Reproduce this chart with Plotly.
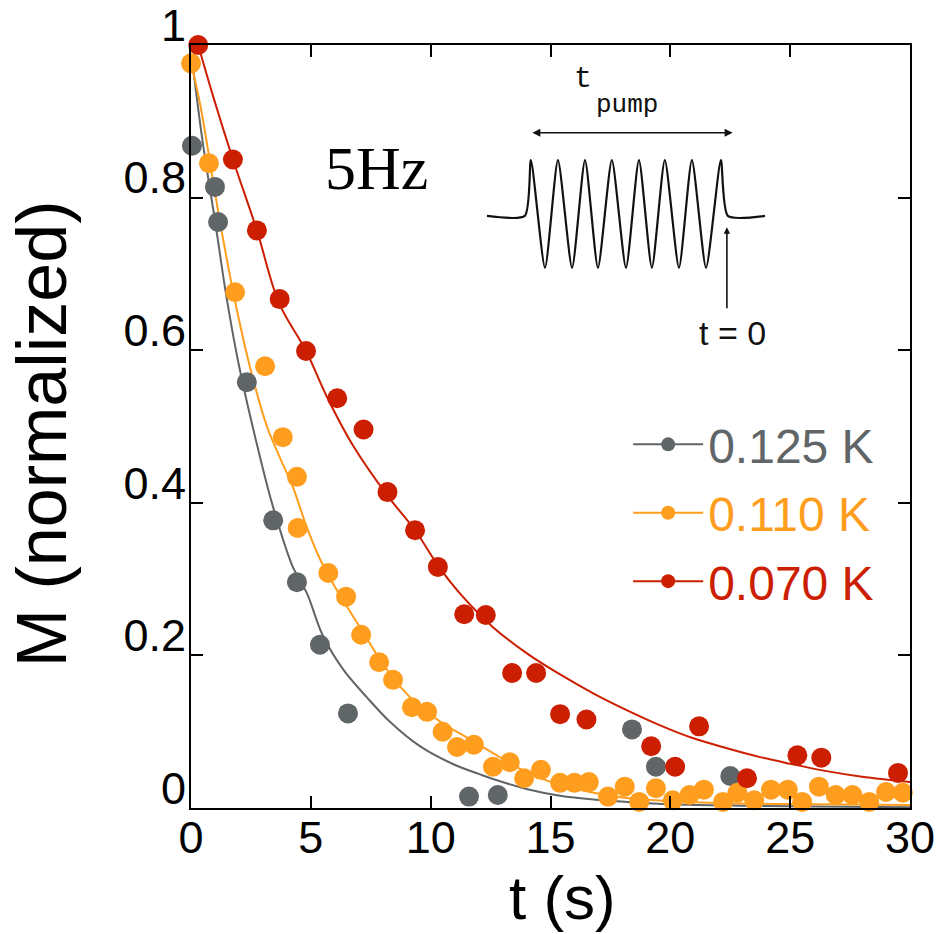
import plotly.graph_objects as go

# ---------------- data ----------------
labels = ["0.125 K", "0.110 K", "0.070 K"]
colors = ["#606568", "#FF9E1E", "#CC1E00"]

gray_t = [0.04, 1.0, 1.13, 2.33, 3.43, 4.42, 5.38, 6.55, 11.6, 12.8, 18.4, 19.4, 22.5]
gray_m = [0.868, 0.814, 0.768, 0.558, 0.377, 0.296, 0.214, 0.124, 0.015, 0.017, 0.103, 0.054, 0.042]

orange_t = [0.0, 0.75, 1.84, 3.09, 3.83, 4.42, 4.45, 5.73, 6.47, 7.1, 7.85, 8.43, 9.22, 9.85,
            10.5, 11.1, 11.8, 12.6, 13.3, 13.9, 14.6, 15.4, 16.0, 16.6, 17.4, 18.1, 18.7,
            19.4, 20.1, 20.8, 21.4, 22.2, 22.8, 23.5, 24.2, 24.9, 25.5, 26.2, 26.9, 27.6,
            28.3, 29.0, 29.7]
orange_m = [0.976, 0.845, 0.676, 0.579, 0.486, 0.434, 0.367, 0.308, 0.277, 0.227, 0.191, 0.168,
            0.132, 0.126, 0.100, 0.080, 0.083, 0.054, 0.060, 0.039, 0.050, 0.033, 0.033, 0.034,
            0.015, 0.028, 0.008, 0.026, 0.010, 0.017, 0.024, 0.008, 0.020, 0.010, 0.024, 0.024,
            0.008, 0.028, 0.017, 0.017, 0.008, 0.021, 0.020]

red_t = [0.3, 1.75, 2.75, 3.7, 4.8, 6.1, 7.2, 8.2, 9.35, 10.3, 11.4, 12.3, 13.4, 14.4, 15.4,
         16.5, 19.2, 20.2, 21.2, 23.2, 25.3, 26.3, 29.5]
red_m = [1.0, 0.85, 0.757, 0.667, 0.599, 0.537, 0.496, 0.414, 0.364, 0.316, 0.254, 0.253, 0.177,
         0.177, 0.123, 0.116, 0.081, 0.054, 0.107, 0.039, 0.069, 0.066, 0.046]

# fitted curves
gray_fit_t = [0.05, 0.5, 1.0, 1.5, 2.04, 2.88, 3.42, 4.26, 4.83, 5.5, 6.34, 7.34, 8.3, 9.55,
              10.9, 12.06, 12.6, 14.0, 15.4, 16.8, 18.2, 20.0, 23.0, 26.0, 30.0]
gray_fit_m = [0.98, 0.87, 0.77, 0.666, 0.574, 0.46, 0.395, 0.315, 0.282, 0.226, 0.182, 0.145,
              0.113, 0.081, 0.058, 0.044, 0.038, 0.025, 0.016, 0.011, 0.008, 0.005, 0.003,
              0.002, 0.001]

orange_fit_t = [0.0, 0.37, 1.2, 1.8, 2.46, 3.17, 3.7, 4.26, 4.83, 5.4, 6.15, 7.05, 7.9, 8.7,
                9.55, 10.7, 11.2, 12.06, 12.6, 14.0, 15.4, 16.8, 18.2, 20.0, 23.0, 26.0, 30.0]
orange_fit_m = [0.976, 0.924, 0.77, 0.67, 0.578, 0.50, 0.46, 0.42, 0.368, 0.325, 0.282, 0.237,
                0.194, 0.160, 0.133, 0.107, 0.098, 0.082, 0.072, 0.047, 0.030, 0.020, 0.013,
                0.009, 0.006, 0.005, 0.004]

red_fit_t = [0.3, 0.93, 1.75, 2.75, 3.67, 4.8, 5.67, 6.76, 8.18, 9.35, 10.3, 11.2, 12.6, 14.0,
             15.4, 16.8, 18.2, 19.6, 20.9, 22.4, 23.7, 25.0, 26.4, 28.0, 30.0]
red_fit_m = [1.0, 0.932, 0.85, 0.757, 0.662, 0.599, 0.539, 0.475, 0.41, 0.364, 0.318, 0.282,
             0.237, 0.203, 0.175, 0.150, 0.128, 0.108, 0.092, 0.078, 0.067, 0.058, 0.049,
             0.041, 0.034]

x_ticks = [0, 5, 10, 15, 20, 25, 30]
y_ticks = [0, 0.2, 0.4, 0.6, 0.8, 1.0]
y_tick_text = ["0", "0.2", "0.4", "0.6", "0.8", "1"]

# schematic inset (pump pulse) vertices in data units
pulse_t = [12.35, 13.93, 14.18, 14.77, 15.31, 15.90, 16.44, 16.98, 17.56, 18.15, 18.69,
           19.23, 19.77, 20.36, 20.90, 21.49, 22.11, 22.40, 23.95]
pulse_m = [0.776, 0.776, 0.849, 0.708, 0.849, 0.708, 0.849, 0.708, 0.849, 0.708, 0.849,
           0.708, 0.849, 0.708, 0.849, 0.708, 0.849, 0.776, 0.776]

series = [(gray_t, gray_m, gray_fit_t, gray_fit_m),
          (orange_t, orange_m, orange_fit_t, orange_fit_m),
          (red_t, red_m, red_fit_t, red_fit_m)]

fig = go.Figure()

# fit lines
for (t, m, ft, fm), c in zip(series, colors):
    fig.add_trace(go.Scatter(x=ft, y=fm, mode="lines",
                             line=dict(color=c, width=2, shape="spline", smoothing=1.0),
                             showlegend=False, hoverinfo="skip", cliponaxis=False))

# data points
for (t, m, ft, fm), c in zip(series, colors):
    fig.add_trace(go.Scatter(x=t, y=m, mode="markers",
                             marker=dict(color=c, size=20, symbol="circle", line=dict(width=0)),
                             showlegend=False, cliponaxis=False))

# legend entries
for lab, c, i in zip(labels, colors, range(3)):
    fig.add_trace(go.Scatter(x=[None], y=[None], mode="lines+markers",
                             line=dict(color=c, width=2),
                             marker=dict(color=c, size=14),
                             name=f"<span style='color:{c}'>{lab}</span>",
                             legendgroup=f"g{i}"))

# inset pulse drawing
fig.add_trace(go.Scatter(x=pulse_t, y=pulse_m, mode="lines",
                         line=dict(color="#111111", width=2.2, shape="spline", smoothing=0.6),
                         showlegend=False, hoverinfo="skip"))

annotations = [
    dict(x=7.76, y=0.839, xref="x", yref="y", text="5Hz", showarrow=False,
         xanchor="center", yanchor="middle",
         font=dict(family="Liberation Serif", size=62, color="black")),
    # t_pump double arrow
    dict(x=22.6, y=0.885, xref="x", yref="y", ax=14.18, ay=0.885, axref="x", ayref="y",
         text="", showarrow=True, arrowhead=2, arrowsize=1, arrowwidth=1.6,
         arrowside="end+start", arrowcolor="#111111"),
    dict(x=16.35, y=0.955, xref="x", yref="y", text="t", showarrow=False,
         xanchor="center", yanchor="middle",
         font=dict(family="Liberation Mono", size=30, color="#111111")),
    dict(x=18.2, y=0.922, xref="x", yref="y", text="pump", showarrow=False,
         xanchor="center", yanchor="middle",
         font=dict(family="Liberation Mono", size=26, color="#111111")),
    # t = 0 marker
    dict(x=22.36, y=0.761, xref="x", yref="y", ax=22.36, ay=0.653, axref="x", ayref="y",
         text="", showarrow=True, arrowhead=2, arrowsize=0.8, arrowwidth=1.6,
         arrowcolor="#111111"),
    dict(x=22.6, y=0.623, xref="x", yref="y", text="t = 0", showarrow=False,
         xanchor="center", yanchor="middle",
         font=dict(family="Liberation Sans", size=34, color="#111111")),
    # axis titles
    dict(x=-0.207, y=0.49, xref="paper", yref="paper", text="M (normalized)", textangle=-90,
         xanchor="center", yanchor="middle", showarrow=False,
         font=dict(family="Liberation Sans", size=70, color="black")),
    dict(x=0.517, y=-0.117, xref="paper", yref="paper", text="t (s)", showarrow=False,
         xanchor="center", yanchor="middle",
         font=dict(family="Liberation Sans", size=62, color="black")),
]

axis_common = dict(showline=True, linewidth=2, linecolor="black", mirror="allticks",
                   ticks="inside", ticklen=12, tickwidth=2, tickcolor="black",
                   showgrid=False, zeroline=False, ticklabeloverflow="allow",
                   automargin=False,
                   tickfont=dict(family="Liberation Sans", size=45, color="black"))

fig.update_layout(
    width=940, height=934,
    margin=dict(l=191, r=30, t=45, b=126, autoexpand=False),
    paper_bgcolor="white", plot_bgcolor="white",
    xaxis=dict(range=[0, 30], tickvals=x_ticks, ticklabelstandoff=-11, **axis_common),
    yaxis=dict(range=[0, 1], tickvals=y_ticks, ticktext=y_tick_text, ticklabelshift=-20,
               ticklabelstandoff=-6, **axis_common),
    legend=dict(x=0.608, y=0.526, xanchor="left", yanchor="top", bgcolor="rgba(0,0,0,0)",
                font=dict(family="Liberation Sans", size=48), itemwidth=70,
                traceorder="grouped", tracegroupgap=3),
    annotations=annotations,
    showlegend=True,
)

fig.write_html("out.html")
